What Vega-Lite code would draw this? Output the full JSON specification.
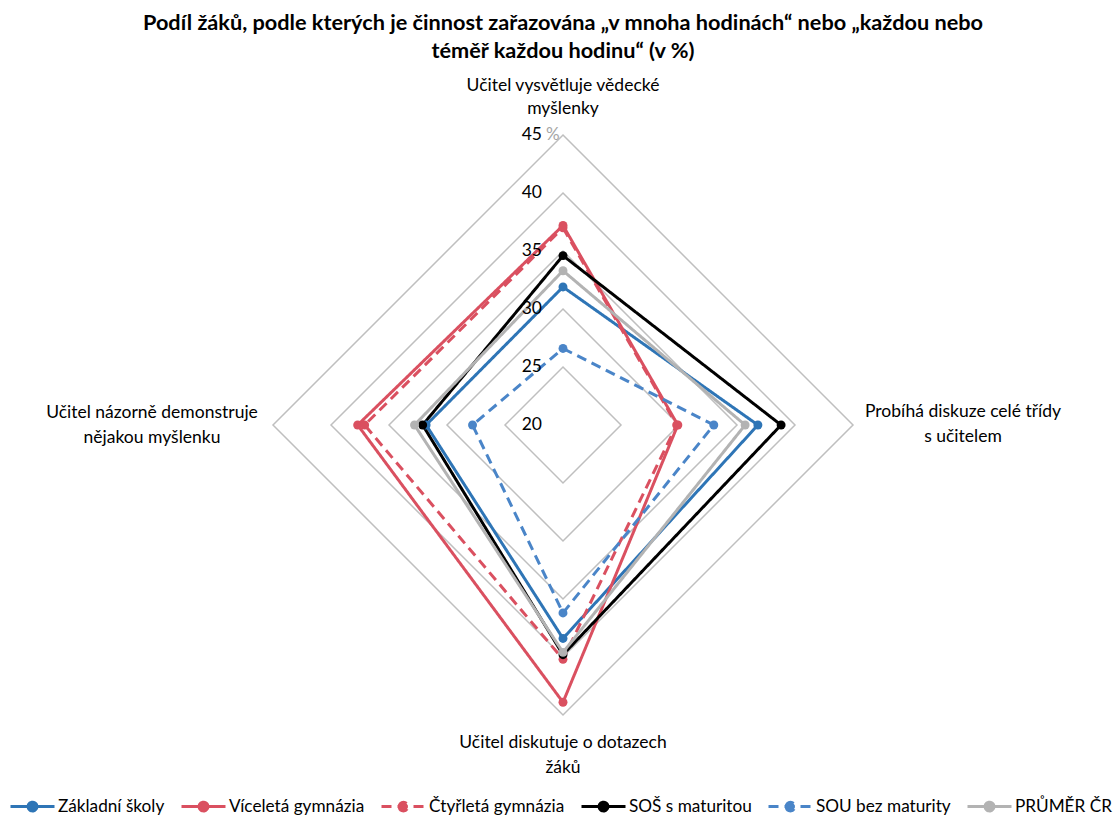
{
  "$schema": "https://vega.github.io/schema/vega-lite/v6.json",
  "width": 580,
  "height": 580,
  "autosize": "none",
  "padding": {"left": 273, "top": 135, "right": 266, "bottom": 102},
  "background": "white",
  "config": {"view": {"stroke": null}, "font": "Lato", "text": {"font": "Lato"}},
  "title": {
    "text": ["Podíl žáků, podle kterých je činnost zařazována „v mnoha hodinách“ nebo „každou nebo", "téměř každou hodinu“ (v %)"],
    "font": "Lato", "fontSize": 21.7, "fontWeight": "bold", "color": "#000000",
    "anchor": "middle", "frame": "group", "lineHeight": 28, "offset": 14
  },
  "datasets": {
    "scores": [
      {"series": "Základní školy", "cat": "top", "value": 31.9},
      {"series": "Základní školy", "cat": "right", "value": 36.8},
      {"series": "Základní školy", "cat": "bottom", "value": 38.4},
      {"series": "Základní školy", "cat": "left", "value": 31.8},
      {"series": "Víceletá gymnázia", "cat": "top", "value": 37.2},
      {"series": "Víceletá gymnázia", "cat": "right", "value": 29.9},
      {"series": "Víceletá gymnázia", "cat": "bottom", "value": 43.9},
      {"series": "Víceletá gymnázia", "cat": "left", "value": 37.7},
      {"series": "Čtyřletá gymnázia", "cat": "top", "value": 37.0},
      {"series": "Čtyřletá gymnázia", "cat": "right", "value": 29.8},
      {"series": "Čtyřletá gymnázia", "cat": "bottom", "value": 40.2},
      {"series": "Čtyřletá gymnázia", "cat": "left", "value": 37.1},
      {"series": "SOŠ s maturitou", "cat": "top", "value": 34.6},
      {"series": "SOŠ s maturitou", "cat": "right", "value": 38.8},
      {"series": "SOŠ s maturitou", "cat": "bottom", "value": 39.8},
      {"series": "SOŠ s maturitou", "cat": "left", "value": 32.1},
      {"series": "SOU bez maturity", "cat": "top", "value": 26.6},
      {"series": "SOU bez maturity", "cat": "right", "value": 33.0},
      {"series": "SOU bez maturity", "cat": "bottom", "value": 36.2},
      {"series": "SOU bez maturity", "cat": "left", "value": 27.8},
      {"series": "PRŮMĚR ČR", "cat": "top", "value": 33.3},
      {"series": "PRŮMĚR ČR", "cat": "right", "value": 35.7},
      {"series": "PRŮMĚR ČR", "cat": "bottom", "value": 39.6},
      {"series": "PRŮMĚR ČR", "cat": "left", "value": 32.8}
    ],
    "grid": [
      {"level": 25, "cat": "top"}, {"level": 25, "cat": "right"}, {"level": 25, "cat": "bottom"}, {"level": 25, "cat": "left"},
      {"level": 30, "cat": "top"}, {"level": 30, "cat": "right"}, {"level": 30, "cat": "bottom"}, {"level": 30, "cat": "left"},
      {"level": 35, "cat": "top"}, {"level": 35, "cat": "right"}, {"level": 35, "cat": "bottom"}, {"level": 35, "cat": "left"},
      {"level": 40, "cat": "top"}, {"level": 40, "cat": "right"}, {"level": 40, "cat": "bottom"}, {"level": 40, "cat": "left"},
      {"level": 45, "cat": "top"}, {"level": 45, "cat": "right"}, {"level": 45, "cat": "bottom"}, {"level": 45, "cat": "left"}
    ],
    "ticks": [
      {"level": 20, "label": "20"}, {"level": 25, "label": "25"}, {"level": 30, "label": "30"},
      {"level": 35, "label": "35"}, {"level": 40, "label": "40"}, {"level": 45, "label": "45"}
    ],
    "cats": [
      {"cat": "top", "label": "Učitel vysvětluje vědecké\nmyšlenky"},
      {"cat": "right", "label": "Probíhá diskuze celé třídy\ns učitelem"},
      {"cat": "bottom", "label": "Učitel diskutuje o dotazech\nžáků"},
      {"cat": "left", "label": "Učitel názorně demonstruje\nnějakou myšlenku"}
    ]
  },
  "layer": [
    {
      "data": {"name": "grid"},
      "transform": [
        {"calculate": "indexof(['top','right','bottom','left'], datum.cat)", "as": "k"},
        {"calculate": "datum.cat == 'right' ? datum.level - 20 : datum.cat == 'left' ? 20 - datum.level : 0", "as": "x"},
        {"calculate": "datum.cat == 'top' ? datum.level - 20 : datum.cat == 'bottom' ? 20 - datum.level : 0", "as": "y"}
      ],
      "mark": {"type": "line", "interpolate": "linear-closed", "stroke": "#bfbfbf", "strokeWidth": 1.5},
      "encoding": {
        "x": {"field": "x", "type": "quantitative", "scale": {"domain": [-25, 25], "nice": false, "zero": false}, "axis": null},
        "y": {"field": "y", "type": "quantitative", "scale": {"domain": [-25, 25], "nice": false, "zero": false}, "axis": null},
        "detail": {"field": "level"},
        "order": {"field": "k"}
      }
    },
    {
      "data": {"name": "scores"},
      "transform": [
        {"calculate": "indexof(['top','right','bottom','left'], datum.cat)", "as": "k"},
        {"calculate": "datum.cat == 'right' ? datum.value - 20 : datum.cat == 'left' ? 20 - datum.value : 0", "as": "x"},
        {"calculate": "datum.cat == 'top' ? datum.value - 20 : datum.cat == 'bottom' ? 20 - datum.value : 0", "as": "y"}
      ],
      "mark": {"type": "line", "interpolate": "linear-closed", "strokeWidth": 3},
      "encoding": {
        "x": {"field": "x", "type": "quantitative"},
        "y": {"field": "y", "type": "quantitative"},
        "color": {
          "field": "series", "type": "nominal",
          "scale": {
            "domain": ["Základní školy", "Víceletá gymnázia", "Čtyřletá gymnázia", "SOŠ s maturitou", "SOU bez maturity", "PRŮMĚR ČR"],
            "range": ["#2e75b6", "#da5060", "#da5060", "#000000", "#4a85c8", "#b3b3b3"]
          },
          "legend": {
            "orient": "none", "legendX": -264, "legendY": 648, "direction": "horizontal", "columns": 6,
            "title": null,
            "symbolType": "M-1,0L1,0M-0.2,0A0.2,0.2,0,1,1,0.2,0A0.2,0.2,0,1,1,-0.2,0Z",
            "symbolSize": 1936, "symbolStrokeWidth": 3,
            "labelFont": "Lato", "labelFontSize": 17.2, "labelColor": "#000000",
            "labelOffset": 2, "columnPadding": 10,
            "encode": {"symbols": {"update": {
              "fill": {"scale": "color", "field": "value"},
              "stroke": {"scale": "color", "field": "value"},
              "strokeDash": {"signal": "datum.value == 'Čtyřletá gymnázia' || datum.value == 'SOU bez maturity' ? [8, 10] : [1, 0]"},
              "opacity": {"value": 1}
            }}}
          }
        },
        "strokeDash": {
          "field": "series", "type": "nominal",
          "scale": {
            "domain": ["Základní školy", "Víceletá gymnázia", "Čtyřletá gymnázia", "SOŠ s maturitou", "SOU bez maturity", "PRŮMĚR ČR"],
            "range": [[1, 0], [1, 0], [10, 6], [1, 0], [10, 6], [1, 0]]
          }
        },
        "order": {"field": "k"}
      }
    },
    {
      "data": {"name": "scores"},
      "transform": [
        {"calculate": "datum.cat == 'right' ? datum.value - 20 : datum.cat == 'left' ? 20 - datum.value : 0", "as": "x"},
        {"calculate": "datum.cat == 'top' ? datum.value - 20 : datum.cat == 'bottom' ? 20 - datum.value : 0", "as": "y"}
      ],
      "mark": {"type": "circle", "size": 80, "opacity": 1},
      "encoding": {
        "x": {"field": "x", "type": "quantitative"},
        "y": {"field": "y", "type": "quantitative"},
        "color": {"field": "series", "type": "nominal"}
      }
    },
    {
      "data": {"name": "ticks"},
      "transform": [{"calculate": "datum.level - 20", "as": "y"}, {"calculate": "0", "as": "x"}],
      "mark": {"type": "text", "align": "right", "baseline": "middle", "dx": -21, "fontSize": 17.5, "font": "Lato", "color": "#000000"},
      "encoding": {
        "x": {"field": "x", "type": "quantitative"},
        "y": {"field": "y", "type": "quantitative"},
        "text": {"field": "label"}
      }
    },
    {
      "data": {"name": "ticks"},
      "transform": [{"filter": "datum.level == 45"}, {"calculate": "datum.level - 20", "as": "y"}, {"calculate": "0", "as": "x"}],
      "mark": {"type": "text", "align": "left", "baseline": "middle", "dx": -17, "fontSize": 17, "font": "Lato", "color": "#a6a6a6", "text": "%"},
      "encoding": {
        "x": {"field": "x", "type": "quantitative"},
        "y": {"field": "y", "type": "quantitative"}
      }
    },
    {
      "data": {"name": "cats"},
      "transform": [{"filter": "datum.cat == 'top'"}, {"calculate": "0", "as": "x"}, {"calculate": "25", "as": "y"}],
      "mark": {"type": "text", "align": "center", "baseline": "middle", "dy": -49, "fontSize": 17.5, "font": "Lato", "lineBreak": "\n", "lineHeight": 23, "color": "#000000"},
      "encoding": {"x": {"field": "x", "type": "quantitative"}, "y": {"field": "y", "type": "quantitative"}, "text": {"field": "label"}}
    },
    {
      "data": {"name": "cats"},
      "transform": [{"filter": "datum.cat == 'right'"}, {"calculate": "25", "as": "x"}, {"calculate": "0", "as": "y"}],
      "mark": {"type": "text", "align": "center", "baseline": "middle", "dx": 110, "dy": -13, "fontSize": 17.5, "font": "Lato", "lineBreak": "\n", "lineHeight": 25, "color": "#000000"},
      "encoding": {"x": {"field": "x", "type": "quantitative"}, "y": {"field": "y", "type": "quantitative"}, "text": {"field": "label"}}
    },
    {
      "data": {"name": "cats"},
      "transform": [{"filter": "datum.cat == 'bottom'"}, {"calculate": "0", "as": "x"}, {"calculate": "-25", "as": "y"}],
      "mark": {"type": "text", "align": "center", "baseline": "middle", "dy": 28, "fontSize": 17.5, "font": "Lato", "lineBreak": "\n", "lineHeight": 25, "color": "#000000"},
      "encoding": {"x": {"field": "x", "type": "quantitative"}, "y": {"field": "y", "type": "quantitative"}, "text": {"field": "label"}}
    },
    {
      "data": {"name": "cats"},
      "transform": [{"filter": "datum.cat == 'left'"}, {"calculate": "-25", "as": "x"}, {"calculate": "0", "as": "y"}],
      "mark": {"type": "text", "align": "center", "baseline": "middle", "dx": -121, "dy": -12, "fontSize": 17.5, "font": "Lato", "lineBreak": "\n", "lineHeight": 25, "color": "#000000"},
      "encoding": {"x": {"field": "x", "type": "quantitative"}, "y": {"field": "y", "type": "quantitative"}, "text": {"field": "label"}}
    }
  ]
}
